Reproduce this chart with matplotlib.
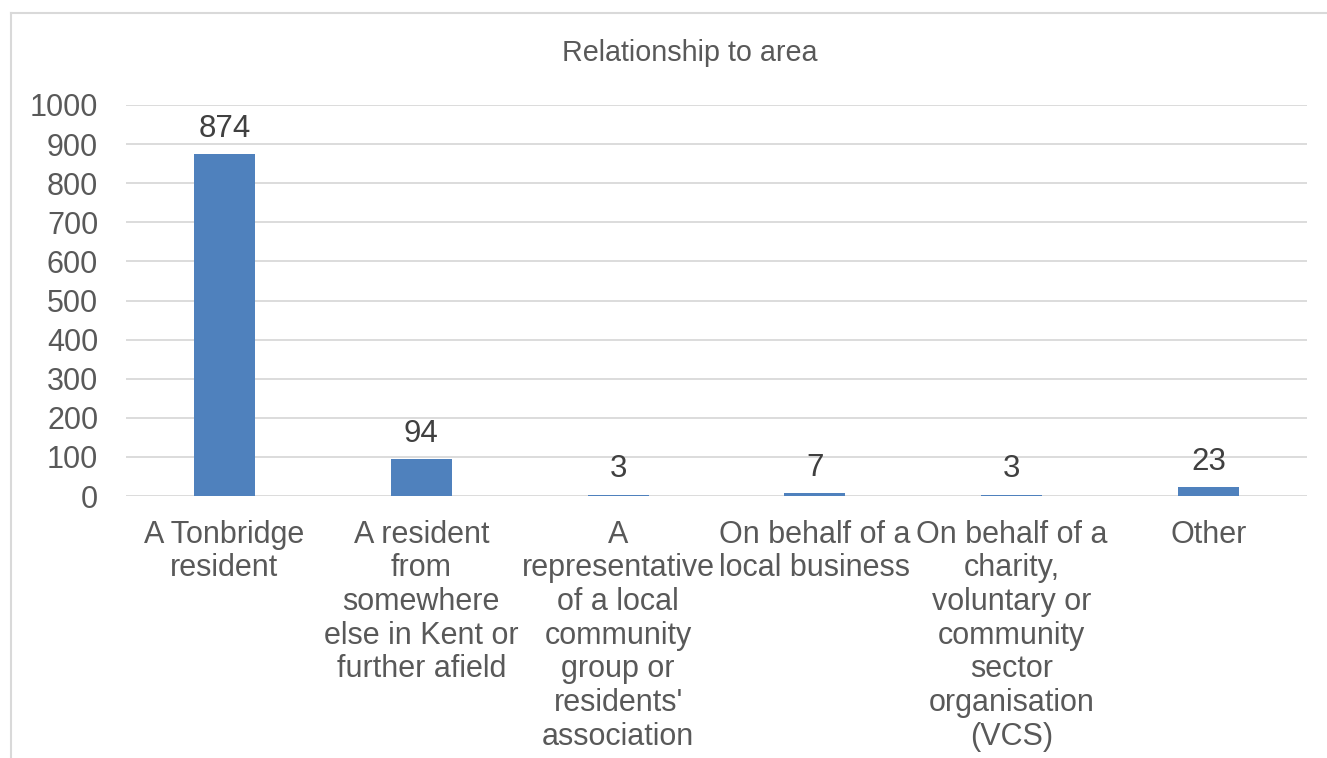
import matplotlib.pyplot as plt
from matplotlib.lines import Line2D

# --- data ---
categories = [
    "A Tonbridge\nresident",
    "A resident\nfrom\nsomewhere\nelse in Kent or\nfurther afield",
    "A\nrepresentative\nof a local\ncommunity\ngroup or\nresidents'\nassociation",
    "On behalf of a\nlocal business",
    "On behalf of a\ncharity,\nvoluntary or\ncommunity\nsector\norganisation\n(VCS)",
    "Other",
]
counts = [874, 94, 3, 7, 3, 23]
y_ticks = [0, 100, 200, 300, 400, 500, 600, 700, 800, 900, 1000]

plt.rcParams['font.family'] = ['Liberation Sans', 'DejaVu Sans']

W, H = 1327, 758
fig = plt.figure(figsize=(W / 100, H / 100), dpi=100)
ax = fig.add_axes([126 / W, (H - 496) / H, (1307 - 126) / W, (496 - 105) / H])

x = range(len(categories))
bars = ax.bar(x, counts, width=0.31, color="#4f81bd", zorder=3)

for b, v in zip(bars, counts):
    ax.annotate(str(v), (b.get_x() + b.get_width() / 2, v),
                xytext=(0, 12.5), textcoords="offset points",
                ha="center", va="baseline", fontsize=22.5, color="#404040")

ax.set_xlim(-0.5, len(categories) - 0.5)
ax.set_ylim(0, 1000)
ax.set_yticks(y_ticks)
ax.set_xticks(list(x))
ax.set_xticklabels(categories, linespacing=1.16)
ax.tick_params(axis="both", length=0, labelsize=22, labelcolor="#595959")
ax.tick_params(axis="y", pad=20)
ax.tick_params(axis="x", pad=17)
ax.grid(axis="y", color="#d9d9d9", linewidth=1.3, zorder=0)
for s in ax.spines.values():
    s.set_visible(False)

fig.text(690 / W, 1 - 53 / H, "Relationship to area", ha="center", va="center",
         fontsize=20.7, color="#595959")

# chart frame (left and top edges only visible)
fig.add_artist(Line2D([10.5 / W, 10.5 / W], [0, 1 - 12.5 / H], transform=fig.transFigure,
                      color="#d9d9d9", linewidth=1.5))
fig.add_artist(Line2D([10.5 / W, 1], [1 - 12.5 / H, 1 - 12.5 / H], transform=fig.transFigure,
                      color="#d9d9d9", linewidth=1.5))

fig.savefig("out.png", dpi=100, facecolor="white")
